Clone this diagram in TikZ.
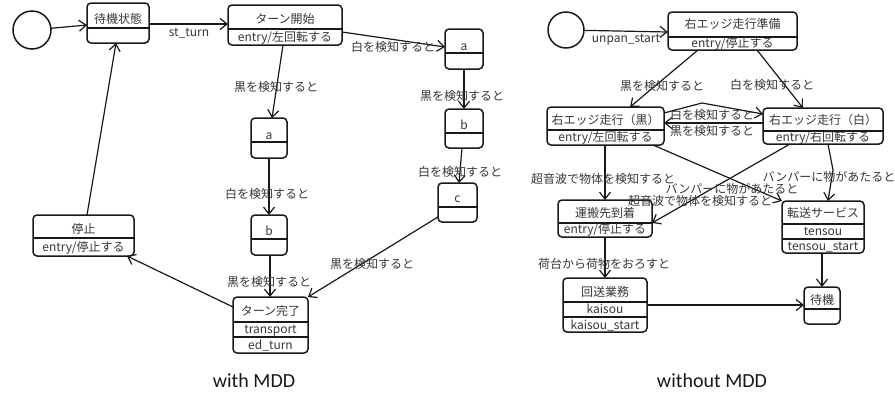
\documentclass[tikz,border=0pt]{standalone}
\usepackage{fontspec}
\setmainfont{Noto Sans CJK JP}
\newfontfamily\capfont{Carlito}
\usetikzlibrary{arrows.meta}
\definecolor{ink}{RGB}{25,25,25}
\definecolor{lab}{RGB}{55,55,55}
\newcommand\hdiv[2]{\draw[divline] ([yshift=-#2pt]#1.north west) -- ([yshift=-#2pt]#1.north east);}
\begin{document}
\begin{tikzpicture}[x=1pt,y=-1pt,
  box/.style={draw=ink, line width=1.5pt, rounded corners=4pt, inner sep=0pt, outer sep=0pt},
  divline/.style={draw=ink, line width=1.2pt},
  con/.style={draw=ink, line width=1.2pt, -{Straight Barb[length=7pt,width=11pt]}},
  tx/.style={text=lab, font=\fontsize{12}{12}\selectfont, inner sep=0pt, text height=9.6pt, text depth=2.4pt, anchor=center},
  initst/.style={draw=ink, line width=1.5pt, circle, inner sep=0pt, outer sep=0pt, minimum size=38pt},
  captext/.style={font=\capfont\fontsize{20}{20}\selectfont, text=ink, inner sep=0pt}]
\fill[white] (0,0) rectangle (895,394);
\useasboundingbox (0,0) rectangle (895,394);

% ---------------- left: with MDD ----------------
\node[initst] (init1) at (32,30) {};
\node[box, minimum width=62pt, minimum height=40pt] (wait) at (118,23) {};
\hdiv{wait}{25}
\node[tx] (waitT) at (118,19.5) {待機状態};

\node[box, minimum width=114pt, minimum height=40pt] (turn) at (285,25) {};
\hdiv{turn}{24}
\node[tx] (turnT) at (285,19.5) {ターン開始};
\node[tx] (turnE) at (285,37.5) {entry/左回転する};

\node[box, minimum width=36pt, minimum height=40pt] (a1) at (269,138) {};
\hdiv{a1}{24}
\node[tx] (a1T) at (269,135.5) {a};

\node[box, minimum width=36pt, minimum height=40pt] (b1) at (269,235) {};
\hdiv{b1}{24}
\node[tx] (b1T) at (269,231.5) {b};

\node[box, minimum width=75pt, minimum height=56pt] (done) at (270.5,325) {};
\hdiv{done}{25}
\hdiv{done}{40}
\node[tx] (doneT) at (270.5,312) {ターン完了};
\node[tx] (doneA) at (270.5,329.5) {transport};
\node[tx] (doneB) at (270.5,345.5) {ed\_turn};

\node[box, minimum width=101pt, minimum height=41pt] (stop) at (83.5,235.5) {};
\hdiv{stop}{23}
\node[tx] (stopT) at (83.5,230) {停止};
\node[tx] (stopE) at (83.5,247.5) {entry/停止する};

\node[box, minimum width=38pt, minimum height=40pt] (a2) at (464,49) {};
\hdiv{a2}{24}
\node[tx] (a2T) at (464,46.5) {a};

\node[box, minimum width=38pt, minimum height=39pt] (b2) at (464,128.5) {};
\hdiv{b2}{24}
\node[tx] (b2T) at (464,125.5) {b};

\node[box, minimum width=39pt, minimum height=39pt] (c) at (457.5,202.5) {};
\hdiv{c}{24}
\node[tx] (cT) at (457.5,199) {c};

\draw[con] (init1) -- (wait.west |- 0,25);
\draw[con] (wait.east |- 0,24) -- (turn.west |- 0,24);
\draw[con] (turn.south -| 283,0) -- (a1.north -| 272,0);
\draw[con] (a1) -- (b1);
\draw[con] (b1.south -| 270,0) -- (done.north -| 270,0);
\draw[con] (done.west |- 0,307) -- (stop.south -| 127,0);
\draw[con] (stop.north -| 87,0) -- (wait.south -| 116,0);
\draw[con] (turn.east |- 0,32) -- (a2.west |- 0,47);
\draw[con] (a2) -- (b2);
\draw[con] (b2.south -| 462,0) -- (c.north -| 459,0);
\draw[con] (c.west |- 0,217) -- (done.north east);

\node[tx] (l1) at (189,33) {st\_turn};
\node[tx] (l2) at (276,88) {黒を検知すると};
\node[tx] (l3) at (267,195) {白を検知すると};
\node[tx] (l4) at (269,283) {黒を検知すると};
\node[tx] (l5) at (393,48) {白を検知すると};
\node[tx] (l6) at (462,97) {黒を検知すると};
\node[tx] (l7) at (460,173) {白を検知すると};
\node[tx] (l8) at (372,265) {黒を検知すると};

% ---------------- right: without MDD ----------------
\node[initst, minimum size=36pt] (init2) at (566,30) {};
\node[box, minimum width=129pt, minimum height=38pt] (prep) at (732.5,31) {};
\hdiv{prep}{25}
\node[tx] (prepT) at (732.5,25) {右エッジ走行準備};
\node[tx] (prepE) at (732.5,44) {entry/停止する};

\node[box, minimum width=117pt, minimum height=38pt] (blk) at (605.5,126) {};
\hdiv{blk}{23}
\node[tx] (blkT) at (605.5,121) {右エッジ走行（黒）};
\node[tx] (blkE) at (605.5,138) {entry/左回転する};

\node[box, minimum width=120pt, minimum height=36pt] (wht) at (823,126) {};
\hdiv{wht}{23}
\node[tx] (whtT) at (823,121) {右エッジ走行（白）};
\node[tx] (whtE) at (823,138) {entry/右回転する};

\node[box, minimum width=94pt, minimum height=37pt] (arr) at (605,218.5) {};
\hdiv{arr}{23}
\node[tx] (arrT) at (605,214) {運搬先到着};
\node[tx] (arrE) at (605,230) {entry/停止する};

\node[box, minimum width=82pt, minimum height=52pt] (tens) at (823,227) {};
\hdiv{tens}{23}
\hdiv{tens}{38}
\node[tx] (tensT) at (823,214) {転送サービス};
\node[tx] (tensA) at (823,231.5) {tensou};
\node[tx] (tensB) at (823,246.5) {tensou\_start};

\node[box, minimum width=84pt, minimum height=54pt] (dlv) at (605,305) {};
\hdiv{dlv}{24}
\hdiv{dlv}{39}
\node[tx] (dlvT) at (605,293) {回送業務};
\node[tx] (dlvA) at (605,309.5) {kaisou};
\node[tx] (dlvB) at (605,325.5) {kaisou\_start};

\node[box, minimum width=36pt, minimum height=37pt] (idle) at (822,305.5) {};
\hdiv{idle}{22}
\node[tx] (idleT) at (822,301) {待機};

\coordinate (bend1) at (702,103);
\coordinate (bend2) at (833,170);

\draw[con] (init2) -- (prep.west |- 0,32);
\draw[con] (prep.south -| 698,0) -- (blk.north -| 630,0);
\draw[con] (prep.south -| 757,0) -- (wht.north -| 803,0);
\draw[con] (blk.east |- 0,113) -- (bend1) -- (wht.west |- 0,114);
\draw[con] (wht.west |- 0,123) -- (blk.east |- 0,123);
\draw[con] (blk.south -| 605,0) -- (arr.north -| 605,0);
\draw[con] (blk.south -| 653,0) -- (tens.north west);
\draw[con] (wht.south -| 790,0) -- (arr.east |- 0,223);
\draw[con] (wht.south -| 828,0) -- (bend2) -- (tens.north -| 828,0);
\draw[con] (arr.south -| 605,0) -- (dlv.north -| 605,0);
\draw[con] (tens.south -| 822,0) -- (idle.north -| 822,0);
\draw[con] (dlv.east |- 0,305) -- (idle.west |- 0,305);

\node[tx] (r1) at (626,39) {unpan\_start};
\node[tx] (r2) at (662,87) {黒を検知すると};
\node[tx] (r3) at (772,86) {白を検知すると};
\node[tx] (r4) at (712,116) {白を検知すると};
\node[tx] (r5) at (712,132) {黒を検知すると};
\node[tx] (r6) at (603,180) {超音波で物体を検知すると};
\node[tx] (r7) at (732,190) {バンパーに物があたると};
\node[tx] (r8) at (700,202) {超音波で物体を検知すると};
\node[tx] (r9) at (829,178) {バンパーに物があたると};
\node[tx] (r10) at (604,265) {荷台から荷物をおろすと};

\node[captext] (cap1) at (254,381) {with MDD};
\node[captext] (cap2) at (712,381) {without MDD};
\end{tikzpicture}
\end{document}
